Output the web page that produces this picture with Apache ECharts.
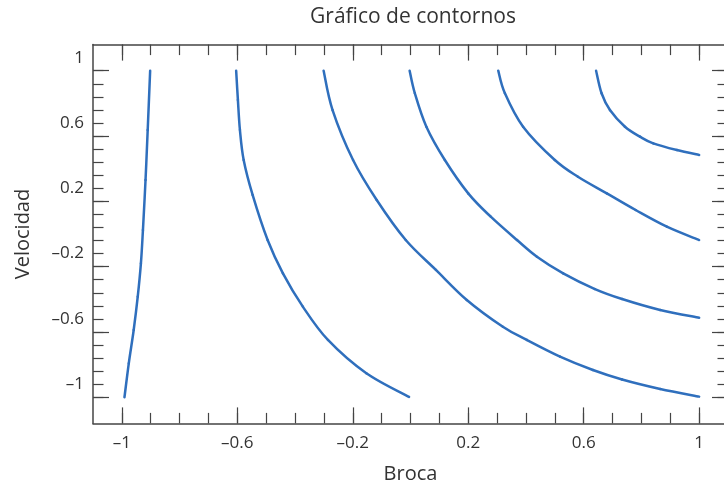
<!DOCTYPE html>
<html><head><meta charset="utf-8">
<script src="https://cdn.jsdelivr.net/npm/echarts@6/dist/echarts.min.js"></script>
<style>html,body{margin:0;padding:0;overflow:hidden;background:#fff}#c{width:740px;height:485px}</style>
</head><body><div id="c"></div><script>
const chartTitle = 'Gráfico de contornos';
const xName = 'Broca';
const yName = 'Velocidad';
const xMajor = [-1, -0.6, -0.2, 0.2, 0.6, 1];
const yMajor = [-1, -0.6, -0.2, 0.2, 0.6, 1];
const xMinor = [-1, -0.9, -0.8, -0.7, -0.6, -0.5, -0.4, -0.3, -0.2, -0.1, 0, 0.1, 0.2, 0.3, 0.4, 0.5, 0.6, 0.7, 0.8, 0.9, 1];
const yMinor = [-1, -0.92, -0.84, -0.76, -0.68, -0.6, -0.52, -0.44, -0.36, -0.28, -0.2, -0.12, -0.04, 0.04, 0.12, 0.2, 0.28, 0.36, 0.44, 0.52, 0.6, 0.68, 0.76, 0.84, 0.92, 1];

const levels = ['16.0', '20.0', '24.0', '28.0', '32.0', '36.0'];
const c16 = [[-0.902,1.0],[-0.9105,0.637],[-0.918,0.331],[-0.927,0.024],[-0.934,-0.180],[-0.945,-0.384],[-0.959,-0.588],[-0.976,-0.792],[-0.991,-1.0]];
const c20 = [[-0.604,1.0],[-0.598,0.821],[-0.591,0.637],[-0.578,0.453],[-0.547,0.239],[-0.495,-0.037],[-0.442,-0.241],[-0.373,-0.445],[-0.286,-0.649],[-0.153,-0.853],[-0.005,-0.998]];
const c24 = [[-0.301,1.0],[-0.270,0.759],[-0.199,0.453],[-0.117,0.208],[-0.0165,-0.037],[0.088,-0.220],[0.195,-0.404],[0.320,-0.568],[0.403,-0.649],[0.518,-0.751],[0.632,-0.833],[0.733,-0.891],[0.865,-0.949],[1.0,-0.996]];
const c28 = [[-0.003,1.0],[0.015,0.862],[0.055,0.657],[0.119,0.453],[0.200,0.249],[0.278,0.106],[0.369,-0.037],[0.438,-0.139],[0.529,-0.241],[0.639,-0.337],[0.733,-0.398],[0.865,-0.465],[1.0,-0.513]];
const c32 = [[0.304,1.0],[0.327,0.862],[0.390,0.657],[0.500,0.453],[0.580,0.351],[0.680,0.249],[0.780,0.147],[0.888,0.045],[1.0,-0.037]];
const c36 = [[0.643,1.0],[0.662,0.862],[0.691,0.759],[0.743,0.657],[0.795,0.596],[0.841,0.555],[0.923,0.514],[1.0,0.484]];
const labelX = [-0.870, -0.332, 0.127, 0.368, 0.645, 0.841];
const labelY = [-0.759, -0.231, -0.078, 0.178, 0.423, 0.715];

const contours = [c16, c20, c24, c28, c32, c36];
const FONT = '"Open Sans", sans-serif';
const TXT = '#333';
const AX = '#444';
const LINE = '#2f6fbd';
const fmt = v => (v < 0 ? '\u2013' : '') + Math.abs(v);

function axis(dim, pos, values, len, main, labels) {
  const a = {
    type: 'value', position: pos,
    min: dim === 'x' ? -1.1 : -1.16, max: dim === 'x' ? 1.1 : 1.16,
    splitLine: { show: false },
    axisLine: { show: main, onZero: false, lineStyle: { color: AX, width: 1.5 } },
    axisTick: { show: true, inside: true, length: len, customValues: values, lineStyle: { color: AX, width: 1.2 } },
    axisLabel: { show: !!labels, customValues: values, formatter: fmt, color: TXT, fontFamily: FONT, fontSize: 17 }
  };
  if (labels && dim === 'x') { a.axisLabel.margin = 11; a.name = xName; a.nameLocation = 'middle'; a.nameGap = 41; a.nameTextStyle = { color: TXT, fontFamily: FONT, fontSize: 20 }; }
  if (labels && dim === 'y') { a.axisLabel.margin = 9; a.axisLabel.verticalAlign = 'bottom'; a.axisLabel.lineHeight = 26; a.name = yName; a.nameLocation = 'middle'; a.nameGap = 60; a.nameTextStyle = { color: TXT, fontFamily: FONT, fontSize: 20 }; }
  return a;
}

function makeRender(pts) {
  return function (params, api) {
    const i = params.dataIndex;
    const n = pts.length;
    if (i >= n - 1) return null;
    const P = k => api.coord(pts[Math.max(0, Math.min(n - 1, k))]);
    const p0 = P(i - 1), p1 = P(i), p2 = P(i + 1), p3 = P(i + 2);
    return {
      type: 'bezierCurve',
      shape: {
        x1: p1[0], y1: p1[1], x2: p2[0], y2: p2[1],
        cpx1: p1[0] + (p2[0] - p0[0]) / 6, cpy1: p1[1] + (p2[1] - p0[1]) / 6,
        cpx2: p2[0] - (p3[0] - p1[0]) / 6, cpy2: p2[1] - (p3[1] - p1[1]) / 6
      },
      style: { stroke: LINE, lineWidth: 2.5, fill: null, lineCap: 'round' }
    };
  };
}

const series = contours.map((c, i) => ({
  type: 'custom', name: levels[i], coordinateSystem: 'cartesian2d', xAxisIndex: 0, yAxisIndex: 0,
  data: c, encode: { x: 0, y: 1 }, renderItem: makeRender(c), silent: true
}));
series.push({
  type: 'scatter', xAxisIndex: 0, yAxisIndex: 0, symbolSize: 1, itemStyle: { opacity: 0 },
  data: levels.map((t, i) => ({ value: [labelX[i], labelY[i]], name: t })),
  label: { show: true, position: 'inside', formatter: '{b}', color: TXT, fontFamily: FONT, fontSize: 17 }
});

const chart = echarts.init(document.getElementById('c'), null, { renderer: 'canvas' });
chart.setOption({
  animation: false,
  title: { text: chartTitle, left: 408, top: 2, textAlign: 'center', textStyle: { color: TXT, fontFamily: FONT, fontSize: 21, fontWeight: 'normal' } },
  grid: { left: 93, top: 44.6, right: 12, bottom: 61.6, outerBoundsMode: 'none', containLabel: false },
  xAxis: [
    axis('x', 'bottom', xMajor, 16, true, true),
    axis('x', 'bottom', xMinor, 10.5, false, false),
    axis('x', 'top', xMajor, 16, true, false),
    axis('x', 'top', xMinor, 10.5, false, false)
  ],
  yAxis: [
    axis('y', 'left', yMajor, 16, true, true),
    axis('y', 'left', yMinor, 10.5, false, false),
    axis('y', 'right', yMajor, 16, true, false),
    axis('y', 'right', yMinor, 10.5, false, false)
  ],
  series
});
</script></body></html>
